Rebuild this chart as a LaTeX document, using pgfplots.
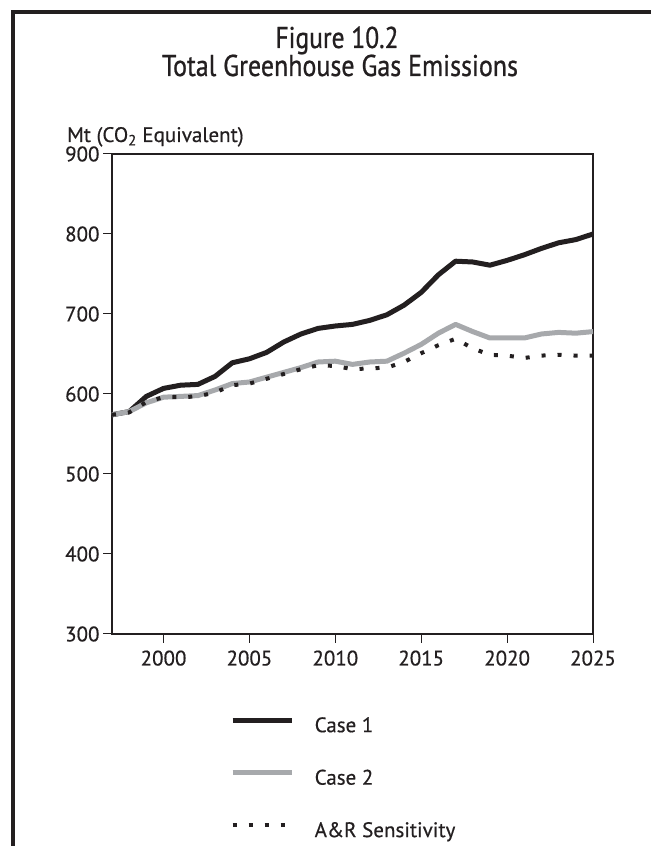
\documentclass[border=0pt]{standalone}
\usepackage{fontspec}
\setmainfont{PT Sans}[FakeBold=0.5]
\newfontfamily\titlefont{PT Sans}[FakeBold=0.9]
\usepackage{graphicx}
\usepackage{pgfplots}
\pgfplotsset{compat=1.18}
\definecolor{inkblack}{HTML}{231F20}
\definecolor{linegrey}{HTML}{A7A9AC}

% one table per series, year and Mt CO2 equivalent
\pgfplotstableread{
year val
1997 574
1998 578
1999 597
2000 607
2001 611
2002 612
2003 622
2004 639
2005 644
2006 652
2007 665
2008 675
2009 682
2010 685
2011 687
2012 692
2013 699
2014 711
2015 727
2016 749
2017 766
2018 765
2019 761
2020 767
2021 774
2022 782
2023 789
2024 793
2025 800
}\caseone
\pgfplotstableread{
year val
1997 574
1998 578
1999 589
2000 596
2001 597
2002 598
2003 605
2004 613
2005 615
2006 621
2007 627
2008 633
2009 640
2010 641
2011 637
2012 640
2013 641
2014 651
2015 662
2016 676
2017 687
2018 678
2019 670
2020 670
2021 670
2022 675
2023 677
2024 676
2025 678
}\casetwo
\pgfplotstableread{
year val
1997 574
1998 577
1999 590
2000 596
2001 596
2002 597
2003 602
2004 611
2005 613
2006 619
2007 625
2008 631
2009 636
2010 635
2011 631
2012 632
2013 633
2014 640
2015 651
2016 661
2017 669
2018 657
2019 649
2020 648
2021 645
2022 648
2023 649
2024 648
2025 648
}\arsens

\begin{document}
\begin{tikzpicture}[x=1bp,y=1bp]
\useasboundingbox (0,0) rectangle (651,846);
% page frame: top and left rules only
\draw[inkblack, line width=4bp] (13,0) -- (13,834) -- (651,834);

\node[anchor=base, inner sep=0pt, text=inkblack] at (337,798)
  {\titlefont\fontsize{30bp}{36bp}\selectfont\resizebox{123bp}{\height}{Figure 10.2}};
\node[anchor=base, inner sep=0pt, text=inkblack] at (340,770)
  {\titlefont\fontsize{30bp}{36bp}\selectfont\resizebox{356bp}{\height}{Total Greenhouse Gas Emissions}};
\node[anchor=base west, inner sep=0pt, text=inkblack] at (67,704)
  {\fontsize{21bp}{24bp}\selectfont Mt (CO\textsubscript{2} Equivalent)};

\begin{axis}[
    at={(112bp,212bp)}, anchor=south west,
    scale only axis,
    width=481bp, height=480bp,
    xmin=1997, xmax=2025,
    ymin=300, ymax=900,
    xtick={2000,2005,...,2025},
    ytick={300,400,...,900},
    /pgf/number format/1000 sep={},
    /pgf/number format/assume math mode=true,
    tick align=outside,
    major tick length=9bp,
    tick style={inkblack, line width=1bp},
    axis line style={inkblack, line width=2.5bp},
    xtick pos=bottom, ytick pos=left,
    ticklabel style={font=\fontsize{21bp}{24bp}\selectfont, text=inkblack},
    xticklabel style={yshift=-4bp},
    clip=false,
    legend style={at={(0.2453,-0.173)}, anchor=north west, draw=none, fill=none,
        inner sep=0pt, row sep=36bp,
        nodes={font=\fontsize{21bp}{24bp}\selectfont, text=inkblack, inner sep=0pt}},
    legend cell align=left,
    legend image code/.code={\draw[#1] (0bp,5bp) -- (59bp,5bp);
        \path[draw=none] (0bp,5bp) -- (82bp,5bp);},
]
\addplot[inkblack, line width=5bp, line join=round] table[x=year, y=val] {\caseone};
\addlegendentry{Case 1}
\addplot[linegrey, line width=5bp, line join=round] table[x=year, y=val] {\casetwo};
\addlegendentry{Case 2}
\addplot[inkblack, line width=4bp, dash pattern=on 4bp off 12bp] table[x=year, y=val] {\arsens};
\addlegendentry{A\&R Sensitivity}
\end{axis}
\end{tikzpicture}
\end{document}
